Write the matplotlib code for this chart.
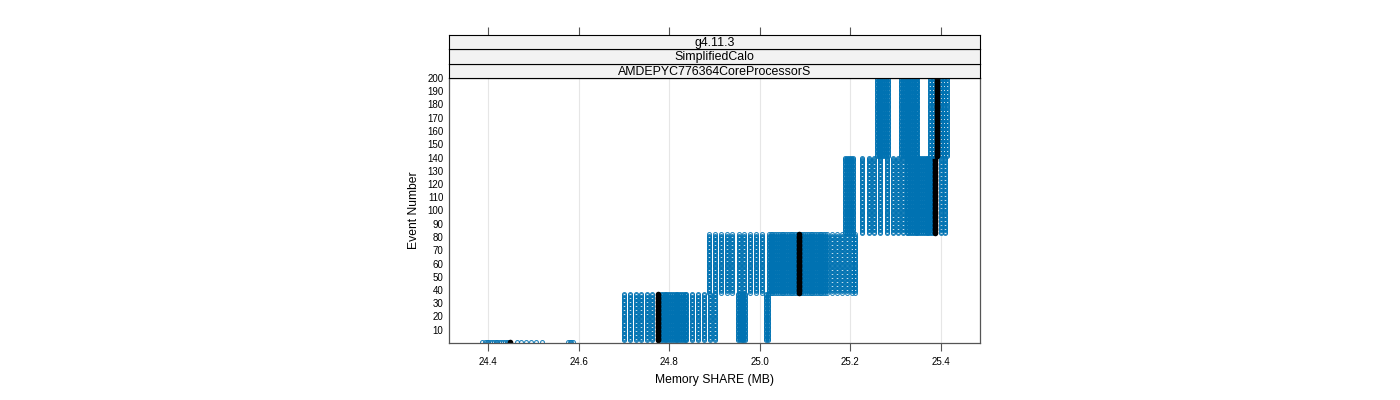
import matplotlib.pyplot as plt
import numpy as np

plt.rcParams['font.family'] = ['Liberation Sans', 'DejaVu Sans']

# blocos de eventos (primeiro e ultimo evento de cada bloco)
event_start = [1, 2, 38, 83, 141]
event_end = [1, 37, 82, 140, 200]

# valores de memoria (MB) de cada execucao, por bloco
share_a = [24.386, 24.393, 24.397, 24.401, 24.405, 24.409, 24.413, 24.417,
           24.421, 24.425, 24.429, 24.433, 24.437, 24.441, 24.444, 24.463,
           24.474, 24.485, 24.496, 24.507, 24.519, 24.576, 24.580, 24.584,
           24.588]
share_b = [24.701, 24.713, 24.726, 24.738, 24.750, 24.761, 24.782, 24.786,
           24.790, 24.794, 24.798, 24.802, 24.806, 24.810, 24.814, 24.818,
           24.822, 24.826, 24.830, 24.834, 24.838, 24.851, 24.864, 24.877,
           24.890, 24.901, 24.952, 24.956, 24.960, 24.964, 24.967, 25.013,
           25.017]
share_c = [24.888, 24.901, 24.914, 24.927, 24.939, 24.953, 24.966, 24.978,
           24.992, 25.004, 25.020, 25.024, 25.028, 25.032, 25.036, 25.040,
           25.044, 25.048, 25.052, 25.056, 25.060, 25.064, 25.068, 25.072,
           25.076, 25.080, 25.084, 25.088, 25.092, 25.096, 25.100, 25.104,
           25.108, 25.112, 25.116, 25.120, 25.124, 25.128, 25.132, 25.136,
           25.140, 25.144, 25.148, 25.159, 25.170, 25.181, 25.192, 25.203,
           25.210]
share_d = [25.189, 25.193, 25.197, 25.201, 25.205, 25.226, 25.240, 25.253,
           25.266, 25.280, 25.293, 25.306, 25.317, 25.324, 25.328, 25.332,
           25.336, 25.340, 25.344, 25.348, 25.352, 25.356, 25.360, 25.364,
           25.368, 25.372, 25.376, 25.380, 25.384, 25.400, 25.409]
share_e = [25.258, 25.262, 25.266, 25.270, 25.274, 25.278, 25.284, 25.312,
           25.316, 25.320, 25.324, 25.328, 25.332, 25.336, 25.340, 25.344,
           25.348, 25.376, 25.382, 25.400, 25.406, 25.413]

# mediana de cada bloco (linha preta)
median_share = [24.449, 24.776, 25.087, 25.387, 25.391]

strips = ['g4.11.3', 'SimplifiedCalo', 'AMDEPYC776364CoreProcessorS']
x_ticks = [24.4, 24.6, 24.8, 25.0, 25.2, 25.4]
y_ticks = list(range(10, 201, 10))

azul = '#0072B2'
borda = '#555555'


def main():
    fig = plt.figure(figsize=(14, 4), dpi=100)
    left, right = 449 / 1400, 980 / 1400
    bottom, top = 1 - 343 / 400, 1 - 78 / 400
    ax = fig.add_axes([left, bottom, right - left, top - bottom])

    blocos = [share_a, share_b, share_c, share_d, share_e]
    for ini, fim, vals, med in zip(event_start, event_end, blocos, median_share):
        eventos = np.arange(ini, fim + 1)
        xx = np.repeat(vals, len(eventos))
        yy = np.tile(eventos, len(vals))
        ax.plot(xx, yy, 'o', ms=2.8, mfc='none', mec=azul, mew=0.8,
                alpha=0.85)
        ax.plot(np.full(len(eventos), med), eventos, 'o', ms=4.0,
                color='black', mew=0)

    ax.set_xlim(24.314, 25.486)
    ax.set_ylim(0, 200)
    for x in x_ticks:
        ax.axvline(x, color='#e6e6e6', lw=0.8, zorder=0)
    ax.set_xticks(x_ticks)
    ax.set_xticklabels(['%.1f' % x for x in x_ticks], fontsize=7)
    ax.set_yticks(y_ticks)
    ax.set_yticklabels([str(y) for y in y_ticks], fontsize=7)
    ax.tick_params(axis='x', length=6, width=0.8, color=borda, pad=4)
    ax.tick_params(axis='y', length=0, pad=4)
    for s in ax.spines.values():
        s.set_color(borda)
        s.set_linewidth(0.9)
    ax.set_xlabel('Memory SHARE (MB)', fontsize=8.7, labelpad=5)
    ax.set_ylabel('Event Number', fontsize=8.7, labelpad=5)

    # tiras do lattice
    h = (78 - 35) / 3 / 400
    for i, txt in enumerate(reversed(strips)):
        sax = fig.add_axes([left, top + i * h, right - left, h])
        sax.set_facecolor('#f2f2f2')
        sax.set_xlim(ax.get_xlim())
        sax.set_yticks([])
        sax.set_xticks([])
        for s in sax.spines.values():
            s.set_color('black')
            s.set_linewidth(0.8)
        sax.text(0.5, 0.45, txt, ha='center', va='center', fontsize=8.9,
                 transform=sax.transAxes)
        if i == len(strips) - 1:
            sax.set_xticks(x_ticks)
            sax.tick_params(axis='x', top=True, bottom=False, labeltop=False,
                            labelbottom=False, length=6, width=0.8,
                            color=borda, direction='out')

    fig.savefig('out.png', dpi=100)


if __name__ == '__main__':
    main()
